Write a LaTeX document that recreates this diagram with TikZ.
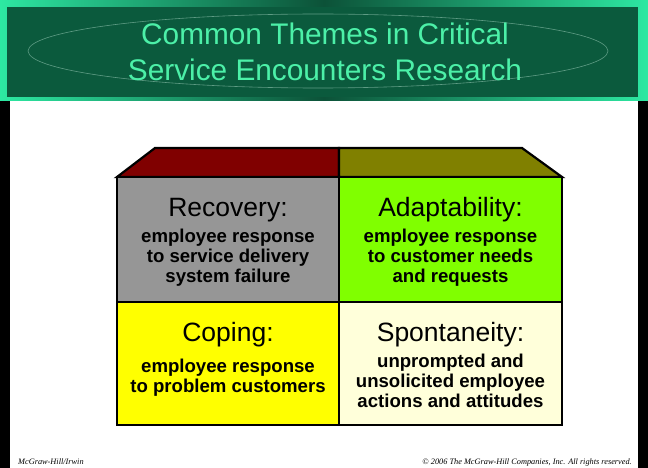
\documentclass[tikz,border=0pt]{standalone}
\usepackage{fontspec}
\setmainfont{Liberation Sans}
\newfontfamily\creditfont{Liberation Serif}
\usepackage{tikz}

\definecolor{bannerlight}{HTML}{2DE8A2}
\definecolor{bannerdark}{HTML}{0C5238}
\definecolor{bannerfill}{HTML}{0B5A3D}
\definecolor{bannertext}{HTML}{4CF0A8}
\definecolor{bannerrim}{HTML}{5E9C84}
\definecolor{roofleft}{HTML}{800000}
\definecolor{roofright}{HTML}{808000}
\definecolor{recoverygrey}{HTML}{969696}
\definecolor{adaptgreen}{HTML}{80FF00}
\definecolor{copingyellow}{HTML}{FFFF00}
\definecolor{spontcream}{HTML}{FFFFDA}

\begin{document}
\begin{tikzpicture}[x=1pt,y=-1pt,
  cellrim/.style={draw=black,line width=2.2pt,line join=miter},
  cellhead/.style={anchor=base,inner sep=0pt,font=\fontsize{26.5}{28}\selectfont},
  cellbody/.style={anchor=north,inner sep=0pt,align=center,font=\bfseries\fontsize{18.6}{20}\selectfont},
  credit/.style={inner sep=0pt,font=\creditfont\itshape\fontsize{8.3}{9}\selectfont}]
%
\path[use as bounding box] (0,0) rectangle (648,468);
\fill[black] (0,0) rectangle (648,468);
\fill[white] (10,101) rectangle (638,468);
%
\shade[left color=bannerlight,right color=bannerlight,middle color=bannerdark] (0,0) rectangle (648,101);
\fill[bannerfill] (7,7) rectangle (638,97);
\draw[bannerrim,line width=0.6pt] (318,51) ellipse [x radius=290pt, y radius=37pt];
\node[anchor=north,inner sep=0pt,align=center,text=bannertext,font=\fontsize{29.8}{36}\selectfont] (title) at (325,23) {Common Themes in Critical\\Service Encounters Research};
%
\newcommand{\quadrant}[9]{
  \draw[fill=#5,cellrim] (#1,#2) rectangle (#3,#4);
  \node[cellhead] (#6) at ({(#1+#3)/2}, #2+39.5) {#7};
  \node[cellbody] (#6text) at ({(#1+#3)/2}, #9) {#8};
}
%
\draw[cellrim,fill=roofleft] (155,148) -- (339,148) -- (339,177) -- (117,177) -- cycle;
\draw[cellrim,fill=roofright] (339,148) -- (522,148) -- (562,177) -- (339,177) -- cycle;
%
\quadrant{117}{177}{339}{302}{recoverygrey}{recovery}{Recovery:}{employee response\\to service delivery\\system failure}{229}
\quadrant{339}{177}{562}{302}{adaptgreen}{adaptability}{Adaptability:}{employee response\\to customer needs\\and requests}{229}
\quadrant{117}{302}{339}{425}{copingyellow}{coping}{Coping:}{employee response\\to problem customers}{359}
\quadrant{339}{302}{562}{425}{spontcream}{spontaneity}{Spontaneity:}{unprompted and\\unsolicited employee\\actions and attitudes}{354}
%
\node[credit,anchor=base west] (publisher) at (18,464) {McGraw-Hill/Irwin};
\node[credit,anchor=base east] (copyright) at (632,464) {\textcopyright{} 2006 The McGraw-Hill Companies, Inc. All rights reserved.};
%
\end{tikzpicture}
\end{document}
